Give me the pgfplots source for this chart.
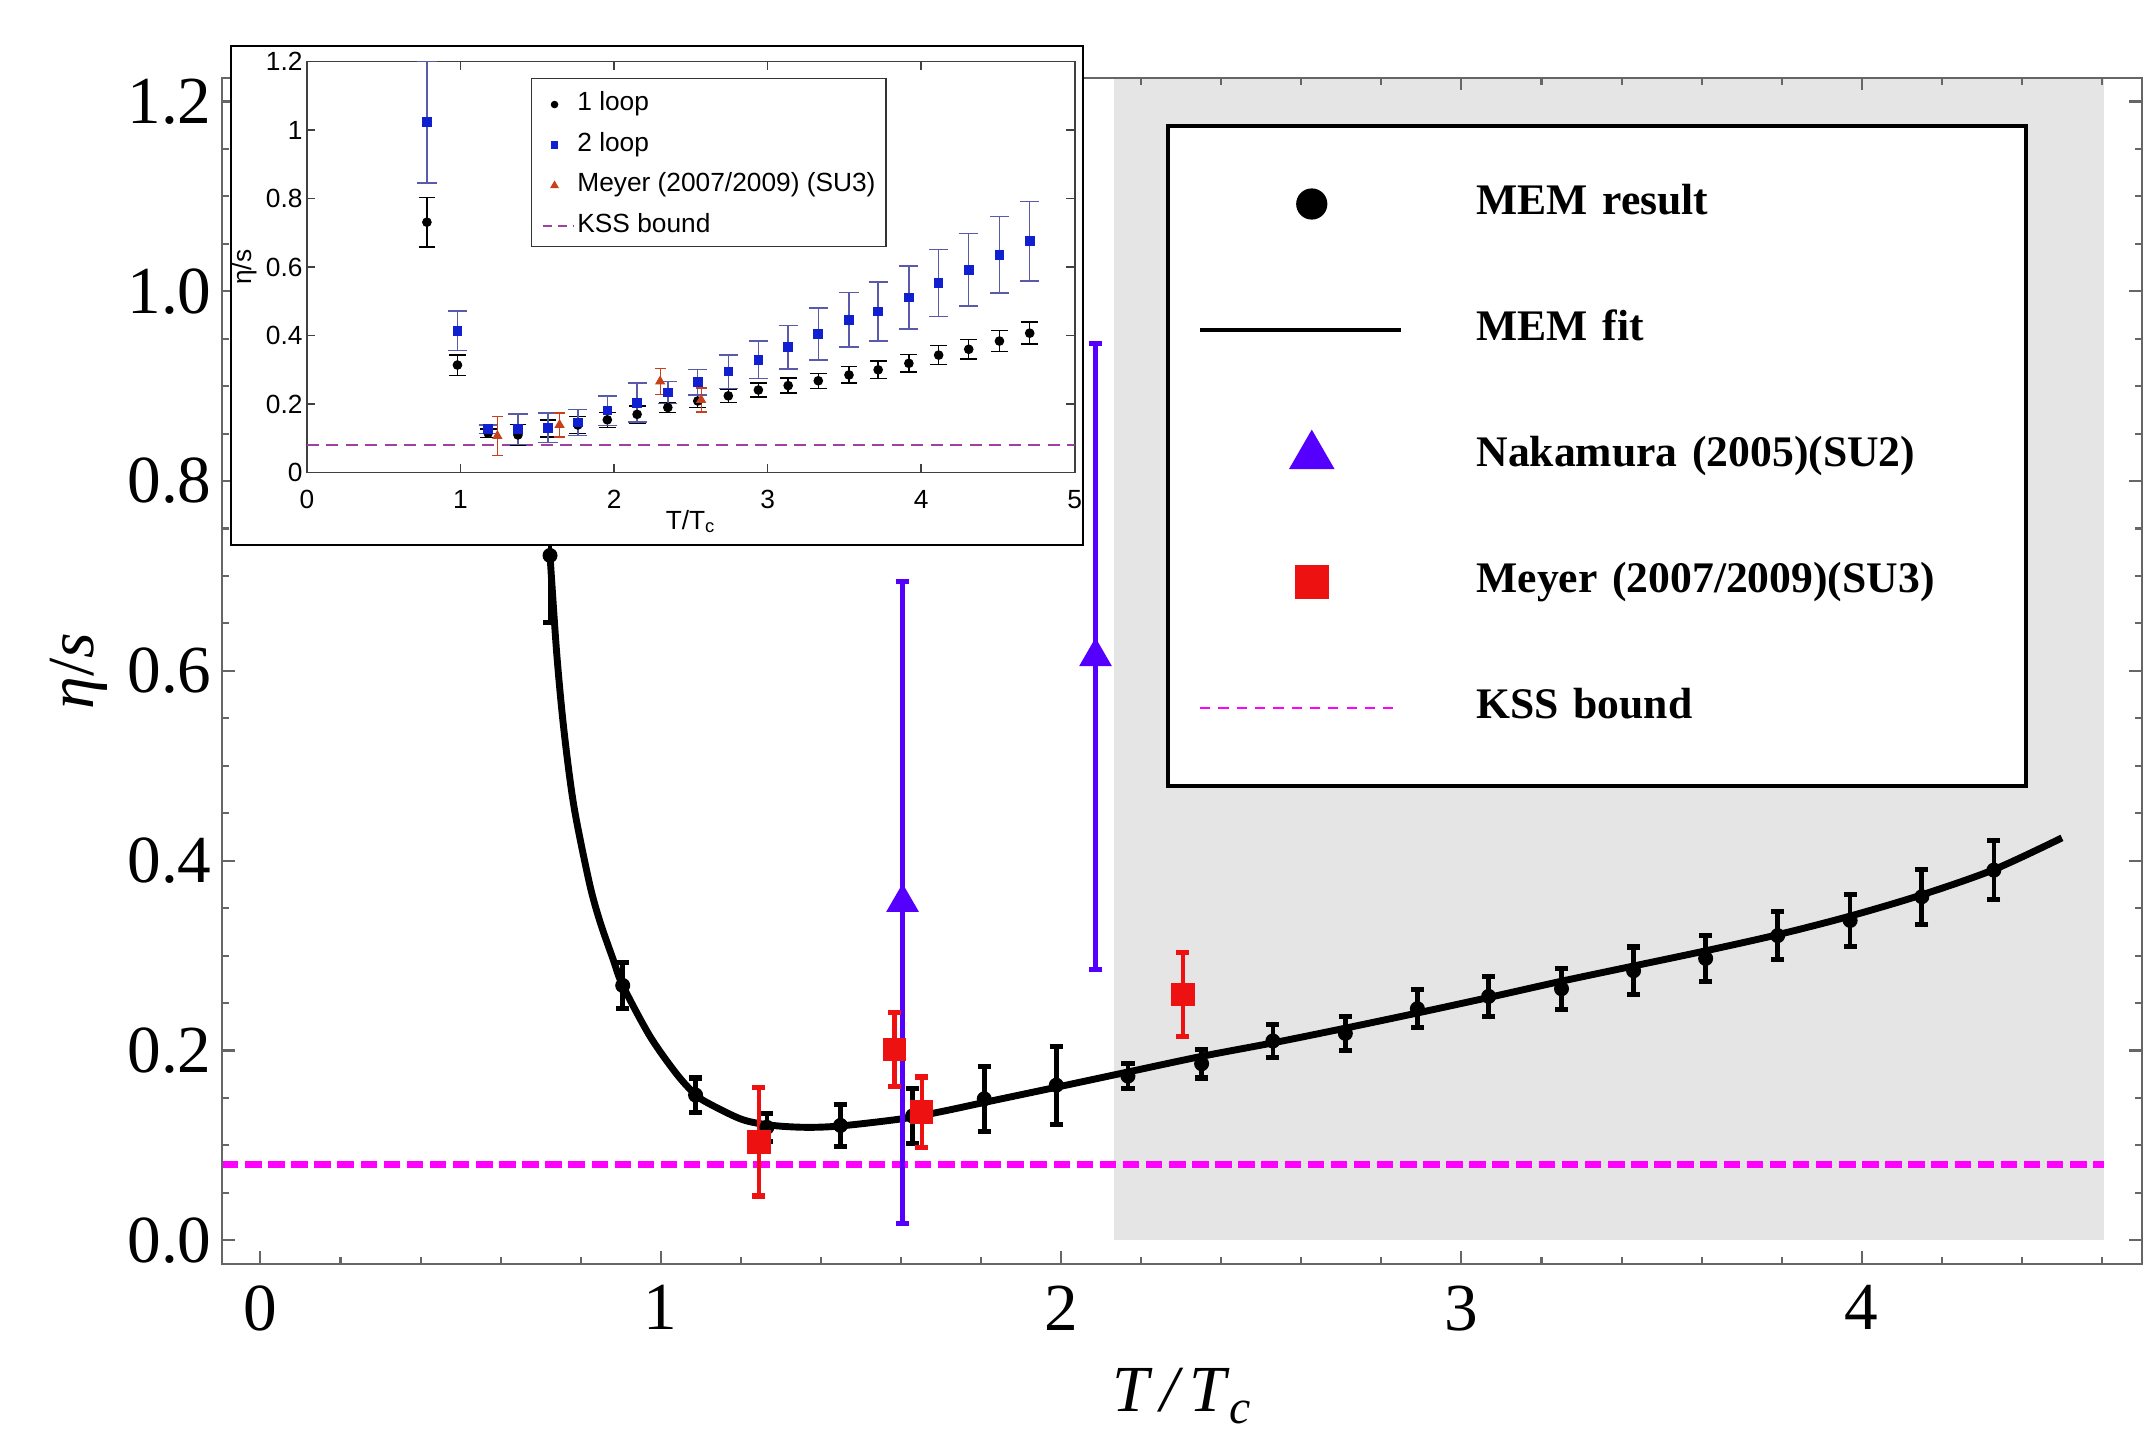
\documentclass[border=0pt]{standalone}
\usepackage{fontspec}
\setmainfont{Liberation Serif}
\newfontfamily\insetfont{Liberation Sans}
\usepackage{pgfplots}
\pgfplotsset{compat=1.18}
\usepackage{pgfplotstable}

\definecolor{kss}{HTML}{FF00FF}
\definecolor{nak}{HTML}{5500FF}
\definecolor{mey}{HTML}{EE1111}
\definecolor{shade}{HTML}{E5E5E5}
\definecolor{framec}{HTML}{666666}
\definecolor{loopblue}{HTML}{1020D0}
\definecolor{loopbar}{HTML}{5A5AAA}
\definecolor{insetred}{HTML}{C8401A}
\definecolor{insetkss}{HTML}{A040A0}

% main panel
\pgfplotstableread{
x y e
0.7234 0.7216 0.071
0.905 0.2685 0.024
1.087 0.153 0.018
1.265 0.119 0.015
1.449 0.121 0.022
1.629 0.131 0.029
1.808 0.149 0.034
1.988 0.1634 0.041
2.167 0.173 0.0135
2.351 0.186 0.015
2.529 0.210 0.0175
2.71 0.218 0.018
2.89 0.244 0.020
3.068 0.257 0.021
3.25 0.265 0.0215
3.43 0.284 0.025
3.61 0.297 0.024
3.79 0.321 0.0255
3.971 0.337 0.027
4.15 0.362 0.029
4.33 0.390 0.031
}\memdata

\pgfplotstableread{
x y e
1.604 0.356 0.338
2.086 0.615 0.330
}\nakdata

\pgfplotstableread{
x y e
1.245 0.1036 0.057
1.584 0.201 0.039
1.652 0.135 0.037
2.304 0.259 0.044
}\meydata

% inset: 1 loop and 2 loop
\pgfplotstableread{
x y1 e1 y2 e2
0.781 0.731 0.0725 1.023 0.177
0.98 0.314 0.030 0.414 0.058
1.18 0.115 0.012 0.1265 0.012
1.374 0.110 0.030 0.1265 0.044
1.57 0.129 0.025 0.131 0.043
1.764 0.139 0.025 0.146 0.038
1.956 0.154 0.022 0.181 0.043
2.15 0.170 0.025 0.204 0.057
2.35 0.190 0.014 0.2336 0.032
2.545 0.209 0.019 0.264 0.037
2.744 0.224 0.0195 0.295 0.049
2.94 0.241 0.020 0.329 0.055
3.134 0.254 0.022 0.366 0.063
3.33 0.268 0.022 0.404 0.076
3.53 0.285 0.024 0.446 0.080
3.72 0.300 0.026 0.470 0.086
3.92 0.319 0.026 0.511 0.092
4.114 0.343 0.028 0.553 0.098
4.31 0.360 0.029 0.592 0.106
4.51 0.384 0.031 0.636 0.112
4.707 0.407 0.032 0.676 0.116
}\loopdata

\pgfplotstableread{
x y e
1.24 0.107 0.056
1.645 0.139 0.035
2.30 0.266 0.039
2.567 0.212 0.035
}\insetmey

\begin{document}
\begin{tikzpicture}
\begin{axis}[
  at={(0,0)}, anchor=south west,
  scale only axis, width=640bp, height=395.4bp,
  xmin=-0.096, xmax=4.7, ymin=-0.025, ymax=1.225,
  axis on top,
  tick pos=both, tick align=inside,
  xtick={0,1,2,3,4},
  minor xtick={0.2,0.4,0.6,0.8,1.2,1.4,1.6,1.8,2.2,2.4,2.6,2.8,3.2,3.4,3.6,3.8,4.2,4.4,4.6},
  ytick={0,0.2,0.4,0.6,0.8,1.0,1.2},
  minor ytick={0.05,0.1,0.15,0.25,0.3,0.35,0.45,0.5,0.55,0.65,0.7,0.75,0.85,0.9,0.95,1.05,1.1,1.15},
  major tick length=4.2bp, minor tick length=2.3bp,
  axis line style={framec, line width=0.7bp},
  every tick/.style={framec, line width=0.7bp},
  /pgf/number format/assume math mode=true,
  ticklabel style={font=\fontsize{22.5}{27}\selectfont},
  xticklabel style={inner sep=0pt, yshift=-7bp},
  yticklabel style={inner sep=0pt, xshift=-3.3bp,
    /pgf/number format/.cd, fixed, fixed zerofill, precision=1},
  xlabel={\textit{T\,/\,T}\raisebox{-0.17em}{\fontsize{16}{18}\selectfont\textit{c}}},
  ylabel={\textit{η}/\textit{s}},
  label style={font=\fontsize{22}{26}\selectfont},
  xlabel style={at={(axis description cs:0.5,-0.1247)}, anchor=base},
  ylabel style={at={(axis description cs:-0.0745,0.5)}, anchor=center},
  legend style={at={(0.4917,0.961)}, anchor=north west, draw=black, line width=1.3bp, fill=white,
    inner xsep=10bp, inner ysep=17bp, row sep=24bp,
    font=\fontsize{14.6}{17}\selectfont\bfseries,
    nodes={inner sep=0pt, text height=10bp, text depth=3bp, text width=173.1bp, align=left},
    /tikz/every odd column/.append style={column sep=24.4bp}},
  legend cell align=left,
  legend image code/.code={%
    \path[draw=none,fill=none] (0bp,-9bp) rectangle (67bp,9bp);
    \draw[mark repeat=2,mark phase=2,#1] plot coordinates {(0bp,0bp) (37.2bp,0bp) (67bp,0bp)};},
]
% shaded region
\addplot[fill=shade, draw=none, forget plot] coordinates {(2.1316,0) (4.605,0) (4.605,1.3) (2.1316,1.3)} -- cycle;
% KSS bound 1/(4 pi)
\addplot[kss, line width=2.2bp, dash pattern=on 5.5bp off 2.2bp, forget plot]
  coordinates {(-0.096,0.0796) (4.605,0.0796)};
% MEM fit
\addplot[black, line width=2.3bp, smooth, tension=0.5, forget plot] coordinates {
  (0.7234,0.7216) (0.740,0.619) (0.758,0.538) (0.783,0.4575) (0.8216,0.3767)
  (0.848,0.336) (0.881,0.296) (0.905,0.2685) (0.973,0.215) (1.04,0.175)
  (1.088,0.153) (1.125,0.143) (1.205,0.127) (1.28,0.121) (1.364,0.119)
  (1.45,0.1205) (1.603,0.128) (1.70,0.1355) (1.81,0.1454) (1.99,0.1614)
  (2.17,0.1776) (2.35,0.1937) (2.529,0.208) (2.71,0.2235) (2.89,0.2395)
  (3.07,0.256) (3.25,0.273) (3.43,0.289) (3.61,0.305) (3.79,0.322)
  (3.97,0.3415) (4.15,0.364) (4.33,0.3906) (4.50,0.424)};
% MEM result
\addplot[black, only marks, mark=*, mark size=2.3bp, forget plot,
  error bars/.cd, y dir=both, y explicit,
  error bar style={black, line width=1.55bp},
  error mark options={black, rotate=90, line width=1.7bp, mark size=2.2bp}]
  table[x=x, y=y, y error=e] {\memdata};
% Nakamura
\addplot[nak, only marks, mark=triangle*, mark size=5.9bp, forget plot,
  error bars/.cd, y dir=both, y explicit,
  error bar style={nak, line width=1.5bp},
  error mark options={nak, rotate=90, line width=1.7bp, mark size=2.3bp}]
  table[x=x, y=y, y error=e] {\nakdata};
% Meyer
\addplot[mey, only marks, mark=square*, mark size=3.7bp, forget plot,
  error bars/.cd, y dir=both, y explicit,
  error bar style={mey, line width=1.5bp},
  error mark options={mey, rotate=90, line width=1.7bp, mark size=2.2bp}]
  table[x=x, y=y, y error=e] {\meydata};

\addlegendimage{only marks, mark=*, mark size=5bp, black, line width=0.4pt}
\addlegendentry{MEM result}
\addlegendimage{black, line width=1.45bp}
\addlegendentry{MEM fit}
\addlegendimage{only marks, mark=triangle*, mark size=8.4bp, nak, line width=0.4pt}
\addlegendentry{Nakamura (2005)(SU2)}
\addlegendimage{only marks, mark=square*, mark size=5.5bp, mey, line width=0.4pt}
\addlegendentry{Meyer (2007/2009)(SU3)}
\addlegendimage{kss, line width=0.5bp, dash pattern=on 3.4bp off 2.7bp}
\addlegendentry{KSS bound}
\end{axis}

% inset frame
\draw[black, line width=0.9bp, fill=white] (3bp,239.7bp) rectangle (287bp,406bp);

\begin{axis}[
  at={(28.33bp,263.8bp)}, anchor=south west,
  scale only axis, width=255.9bp, height=137bp,
  xmin=0, xmax=5, ymin=0, ymax=1.2,
  tick pos=both, tick align=inside,
  xtick={0,1,2,3,4,5}, ytick={0,0.2,0.4,0.6,0.8,1,1.2},
  major tick length=2.8bp,
  axis line style={black!75, line width=0.6bp},
  every tick/.style={black!75, line width=0.5bp},
  /pgf/number format/assume math mode=true,
  ticklabel style={font=\insetfont\fontsize{8.8}{10}\selectfont},
  xticklabel style={inner sep=0pt, yshift=-5.7bp},
  yticklabel style={inner sep=0pt, xshift=-1.3bp},
  xlabel={T/T\textsubscript{c}},
  ylabel={η/s},
  label style={font=\insetfont\fontsize{8.8}{10}\selectfont},
  xlabel style={at={(axis description cs:0.5,-0.1394)}, anchor=base},
  ylabel style={at={(axis description cs:-0.0809,0.5)}, anchor=center},
  legend style={at={(0.2914,0.9608)}, anchor=north west, draw=black!80, line width=0.5bp, fill=white,
    inner xsep=3.4bp, inner ysep=2.9bp, row sep=3.7bp,
    font=\insetfont\fontsize{8.8}{10}\selectfont,
    nodes={inner sep=0pt, text height=6bp, text depth=2bp},
    /tikz/every odd column/.append style={column sep=1bp}},
  legend cell align=left,
  legend image code/.code={%
    \path[draw=none,fill=none] (-0.6bp,-2.2bp) rectangle (9.7bp,5.8bp);
    \draw[mark repeat=2,mark phase=2,#1] plot coordinates {(-0.6bp,0bp) (3.4bp,0bp) (9.7bp,0bp)};},
]
\addplot[insetkss, line width=0.7bp, dash pattern=on 4bp off 2.5bp, forget plot]
  coordinates {(0,0.0796) (5,0.0796)};
\addplot[black, only marks, mark=*, mark size=1.4bp, forget plot,
  error bars/.cd, y dir=both, y explicit,
  error bar style={black, line width=0.5bp},
  error mark options={black, rotate=90, line width=0.5bp, mark size=2.8bp}]
  table[x=x, y=y1, y error=e1] {\loopdata};
\addplot[loopblue, only marks, mark=square*, mark size=1.4bp, forget plot,
  error bars/.cd, y dir=both, y explicit,
  error bar style={loopbar, line width=0.5bp},
  error mark options={loopbar, rotate=90, line width=0.5bp, mark size=3.2bp}]
  table[x=x, y=y2, y error=e2] {\loopdata};
\addplot[insetred, only marks, mark=triangle*, mark size=1.6bp, forget plot,
  error bars/.cd, y dir=both, y explicit,
  error bar style={insetred, line width=0.4bp},
  error mark options={insetred, rotate=90, line width=0.4bp, mark size=1.8bp}]
  table[x=x, y=y, y error=e] {\insetmey};

\addlegendimage{only marks, mark=*, mark size=1.1bp, black, line width=0.3pt}
\addlegendentry{1 loop}
\addlegendimage{only marks, mark=square*, mark size=1.1bp, loopblue, line width=0.3pt}
\addlegendentry{2 loop}
\addlegendimage{only marks, mark=triangle*, mark size=1.4bp, insetred, line width=0.3pt}
\addlegendentry{Meyer (2007/2009) (SU3)}
\addlegendimage{insetkss, line width=0.6bp, dash pattern=on 3bp off 2bp}
\addlegendentry{KSS bound}
\end{axis}

\pgfresetboundingbox
\path[use as bounding box] (-74bp,-55.67bp) rectangle (641.67bp,421.33bp);
\end{tikzpicture}
\end{document}
